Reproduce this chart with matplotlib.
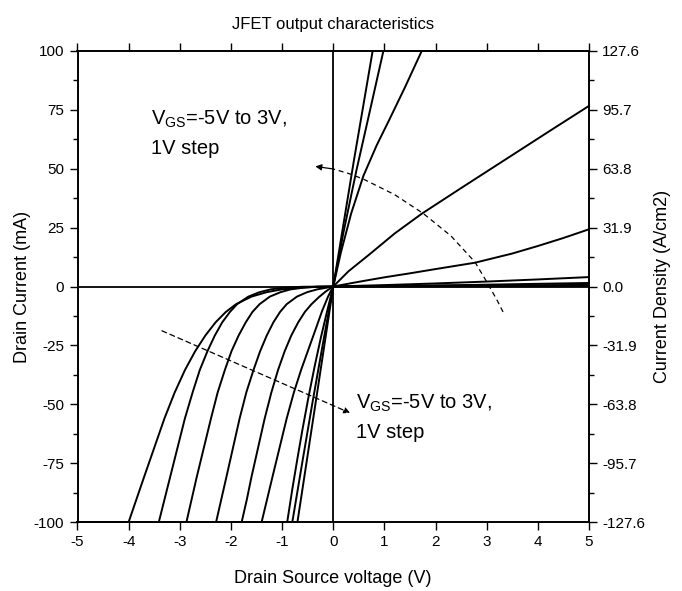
import matplotlib
matplotlib.use("Agg")
import matplotlib.pyplot as plt
from matplotlib.ticker import MultipleLocator, FixedLocator

plt.rcParams['font.family'] = ['Liberation Sans', 'DejaVu Sans']
plt.rcParams['mathtext.fontset'] = 'custom'
plt.rcParams['mathtext.rm'] = 'Liberation Sans'
plt.rcParams['mathtext.it'] = 'Liberation Sans'

# ---- data, one curve per gate voltage VGS ----
vgs_labels = ["-5V", "-4V", "-3V", "-2V", "-1V", "0V", "1V", "2V", "3V"]

# negative drain-source side (V, mA)
neg_x_m5 = [-5, -4.0, -3.85, -3.7, -3.5, -3.3, -3.1, -2.9, -2.7, -2.5, -2.3, -2.1, -1.9, -1.6, -1.3, -1.0, -0.6, -0.3, 0]
neg_y_m5 = [-100, -100, -90.5, -81, -68.5, -56, -45, -35.5, -27.5, -20.8, -15.2, -10.8, -7.5, -4.3, -2.4, -1.2, -0.45, -0.12, 0]
neg_x_m4 = [-5, -3.41, -3.30, -3.19, -3.045, -2.90, -2.75, -2.61, -2.46, -2.315, -2.17, -2.02, -1.88, -1.66, -1.44, -1.22, -0.93, -0.6, 0]
neg_y_m4 = [-100, -100, -90.5, -81, -68.5, -56, -45, -35.5, -27.5, -20.8, -15.2, -10.8, -7.5, -4.3, -2.4, -1.2, -0.45, -0.12, 0]
neg_x_m3 = [-5, -2.87, -2.77, -2.67, -2.53, -2.39, -2.26, -2.12, -1.99, -1.85, -1.71, -1.58, -1.44, -1.24, -1.03, -0.83, -0.56, -0.35, 0]
neg_y_m3 = [-100, -100, -90.5, -81, -68.5, -56, -45, -35.5, -27.5, -20.8, -15.2, -10.8, -7.5, -4.3, -2.4, -1.2, -0.45, -0.12, 0]
neg_x_m2 = [-5, -2.29, -2.19, -2.09, -1.96, -1.83, -1.70, -1.56, -1.43, -1.30, -1.17, -1.04, -0.91, -0.71, -0.51, -0.31, 0]
neg_y_m2 = [-100, -100, -90.5, -81, -68.5, -56, -45, -35.5, -27.5, -20.8, -15.2, -10.8, -7.5, -4.3, -2.4, -1.2, 0]
neg_x_m1 = [-5, -1.79, -1.69, -1.60, -1.47, -1.34, -1.21, -1.08, -0.95, -0.82, -0.685, -0.555, -0.425, -0.28, -0.14, 0]
neg_y_m1 = [-100, -100, -90.5, -81, -68.5, -56, -45, -35.5, -27.5, -20.8, -15.2, -10.8, -7.5, -4.5, -2.0, 0]
neg_x_0 = [-5, -1.40, -1.295, -1.19, -1.05, -0.91, -0.77, -0.63, -0.49, -0.35, -0.22, -0.1, 0]
neg_y_0 = [-100, -100, -90.5, -81, -68.5, -56, -45, -35.5, -27, -18.5, -10.5, -4.2, 0]
neg_x_1 = [-5, -0.9, -0.8, -0.7, -0.6, -0.48, -0.36, -0.24, -0.12, 0]
neg_y_1 = [-100, -100, -86, -73, -60.5, -46.5, -33.5, -21.5, -10.5, 0]
neg_x_2 = [-5, -0.8, -0.6, -0.4, -0.2, 0]
neg_y_2 = [-100, -100, -74, -48.5, -24, 0]
neg_x_3 = [-5, -0.7, -0.5, -0.3, -0.15, 0]
neg_y_3 = [-100, -100, -71.5, -43, -21.5, 0]

# positive drain-source side (V, mA)
pos_x_m5 = [0, 5]
pos_y_m5 = [0, 0.2]
pos_x_m4 = [0, 5]
pos_y_m4 = [0, 0.7]
pos_x_m3 = [0, 2.5, 5]
pos_y_m3 = [0, 0.6, 1.5]
pos_x_m2 = [0, 1, 2, 3, 4, 5]
pos_y_m2 = [0, 0.6, 1.3, 2.1, 3.0, 4.0]
pos_x_m1 = [0, 0.5, 1, 1.5, 2, 2.77, 3.5, 4, 4.5, 5]
pos_y_m1 = [0, 2, 3.9, 5.6, 7.4, 10.1, 14, 17.2, 20.6, 24.3]
pos_x_0 = [0, 0.3, 0.7, 1.2, 1.73, 2.5, 3.5, 4.3, 5]
pos_y_0 = [0, 6.5, 13.5, 22.5, 30.9, 41.8, 55.8, 67, 76.7]
pos_x_1 = [0, 0.15, 0.35, 0.59, 0.85, 1.1, 1.4, 1.73, 5]
pos_y_1 = [0, 14.5, 31, 47, 60, 71, 84.5, 100, 100]
pos_x_2 = [0, 0.2, 0.45, 0.7, 0.98, 5]
pos_y_2 = [0, 23, 49, 73, 100, 100]
pos_x_3 = [0, 0.4, 0.77, 5]
pos_y_3 = [0, 53, 100, 100]

neg_x = [neg_x_m5, neg_x_m4, neg_x_m3, neg_x_m2, neg_x_m1, neg_x_0, neg_x_1, neg_x_2, neg_x_3]
neg_y = [neg_y_m5, neg_y_m4, neg_y_m3, neg_y_m2, neg_y_m1, neg_y_0, neg_y_1, neg_y_2, neg_y_3]
pos_x = [pos_x_m5, pos_x_m4, pos_x_m3, pos_x_m2, pos_x_m1, pos_x_0, pos_x_1, pos_x_2, pos_x_3]
pos_y = [pos_y_m5, pos_y_m4, pos_y_m3, pos_y_m2, pos_y_m1, pos_y_0, pos_y_1, pos_y_2, pos_y_3]

x_ticks = [-5, -4, -3, -2, -1, 0, 1, 2, 3, 4, 5]
y_ticks = [-100, -75, -50, -25, 0, 25, 50, 75, 100]
density_max = 127.6
density_ticks = [-127.6, -95.7, -63.8, -31.9, 0.0, 31.9, 63.8, 95.7, 127.6]

# annotation arrows (data coordinates)
arrow_up_x = [3.32, 3.2, 3.0, 2.77, 2.3, 1.76, 1.2, 0.59, 0.3, 0.0, -0.35]
arrow_up_y = [-10.8, -5.7, 2.0, 10.4, 21.5, 31, 39, 45.6, 48, 49.9, 51]
arrow_dn_x = [-3.35, 0.33]
arrow_dn_y = [-18.8, -53.7]

# ---- figure ----
fig = plt.figure(figsize=(6.82, 5.91), dpi=100)
ax = fig.add_axes([77.5 / 682, 1 - 522 / 591, (589 - 77.5) / 682, (522 - 51) / 591])

lw = 1.4
for xs, ys in zip(neg_x, neg_y):
    ax.plot(xs, ys, color='black', lw=lw, clip_on=False, solid_joinstyle='round')
for xs, ys in zip(pos_x, pos_y):
    ax.plot(xs, ys, color='black', lw=lw, clip_on=False, solid_joinstyle='round')

ax.axhline(0, color='black', lw=1.3)
ax.axvline(0, color='black', lw=1.3)

# dashed arrows
dash = (0, (4, 3))
ax.plot(arrow_up_x[:-1], arrow_up_y[:-1], color='black', lw=0.9, ls=dash)
ax.annotate('', xy=(arrow_up_x[-1], arrow_up_y[-1]), xytext=(arrow_up_x[-2], arrow_up_y[-2]),
            arrowprops=dict(arrowstyle='-|>', color='black', lw=0.9,
                            mutation_scale=9, shrinkA=0, shrinkB=0))
ax.annotate('', xy=(arrow_dn_x[1], arrow_dn_y[1]), xytext=(arrow_dn_x[0], arrow_dn_y[0]),
            arrowprops=dict(arrowstyle='-|>', color='black', lw=0.9, ls=dash,
                            mutation_scale=9, shrinkA=0, shrinkB=0))

label1 = r'V$_{\mathrm{GS}}$=-5V to 3V,'
label2 = '1V step'
ax.text(-3.57, 71, label1, fontsize=14.5, ha='left', va='center')
ax.text(-3.57, 58.5, label2, fontsize=14.5, ha='left', va='center')
ax.text(0.45, -49.5, label1, fontsize=14.5, ha='left', va='center')
ax.text(0.45, -62, label2, fontsize=14.5, ha='left', va='center')

ax.set_xlim(-5, 5)
ax.set_ylim(-100, 100)
ax.xaxis.set_major_locator(FixedLocator(x_ticks))
ax.yaxis.set_major_locator(FixedLocator(y_ticks))
ax.yaxis.set_minor_locator(MultipleLocator(12.5))
ax.set_xticklabels([str(t) for t in x_ticks])
ax.set_yticklabels([str(t) for t in y_ticks])
ax.tick_params(axis='both', which='major', direction='out', length=6, width=1.0,
               labelsize=11, top=True, right=False)
ax.tick_params(axis='y', which='minor', direction='out', length=3.5, width=1.0, right=False)
for s in ax.spines.values():
    s.set_linewidth(1.2)

ax.set_xlabel('Drain Source voltage (V)', fontsize=13, labelpad=15)
ax.set_ylabel('Drain Current (mA)', fontsize=13, labelpad=2)
ax.set_title('JFET output characteristics', fontsize=12, pad=16)

ax2 = ax.twinx()
ax2.set_ylim(-density_max, density_max)
ax2.yaxis.set_major_locator(FixedLocator(density_ticks))
ax2.yaxis.set_minor_locator(FixedLocator([t + 15.95 for t in density_ticks[:-1]]))
ax2.set_yticklabels([f'{t:.1f}' for t in density_ticks])
ax2.tick_params(axis='y', which='major', direction='out', length=6, width=1.0, labelsize=11)
ax2.tick_params(axis='y', which='minor', direction='out', length=3.5, width=1.0)
ax2.set_ylabel('Current Density (A/cm2)', fontsize=13, labelpad=6)
for s in ax2.spines.values():
    s.set_linewidth(1.2)

fig.savefig('out.png', dpi=100)
